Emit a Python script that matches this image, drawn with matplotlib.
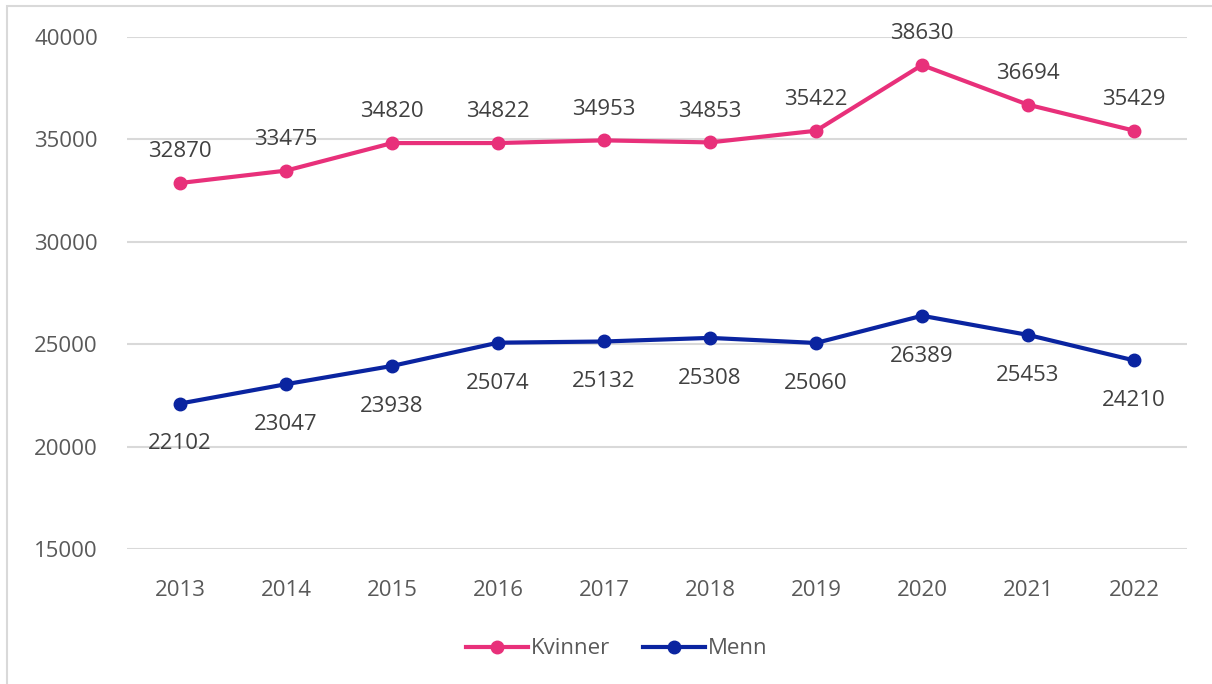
import matplotlib.pyplot as plt
from matplotlib.patches import Rectangle

years = ['2013', '2014', '2015', '2016', '2017', '2018', '2019', '2020', '2021', '2022']
kvinner = [32870, 33475, 34820, 34822, 34953, 34853, 35422, 38630, 36694, 35429]
menn = [22102, 23047, 23938, 25074, 25132, 25308, 25060, 26389, 25453, 24210]

pink = '#E8307A'
navy = '#0A24A0'
grey_text = '#595959'

plt.rcParams['font.family'] = ['Open Sans', 'DejaVu Sans']

fig = plt.figure(figsize=(12.12, 6.84), dpi=100)
# outer chart frame (partly cut off in the original)
fig.patches.append(Rectangle((7 / 1212, -0.1), 1.2, 1 - 6 / 684 + 0.1,
                             transform=fig.transFigure, fill=False,
                             edgecolor='#d9d9d9', linewidth=1.5))

ax = fig.add_axes([127 / 1212, 1 - 549 / 684, 1060 / 1212, 512 / 684])
x = range(len(years))
ax.plot(x, kvinner, color=pink, lw=3, marker='o', ms=9, label='Kvinner', zorder=3)
ax.plot(x, menn, color=navy, lw=3, marker='o', ms=9, label='Menn', zorder=3)

for i, v in enumerate(kvinner):
    ax.annotate(str(v), (i, v), xytext=(0, 18.5), textcoords='offset points',
                ha='center', va='baseline', fontsize=16, color='#404040')
for i, v in enumerate(menn):
    ax.annotate(str(v), (i, v), xytext=(0, -33), textcoords='offset points',
                ha='center', va='baseline', fontsize=16, color='#404040')

ax.set_xlim(-0.5, 9.5)
ax.set_ylim(15000, 40000)
ax.set_yticks(range(15000, 40001, 5000))
ax.set_xticks(list(x))
ax.set_xticklabels(years)
ax.yaxis.grid(True, color='#d9d9d9', lw=1.5)
ax.set_axisbelow(True)
for s in ax.spines.values():
    s.set_visible(False)
ax.tick_params(length=0, labelsize=16, colors=grey_text)
ax.tick_params(axis='y', pad=21)
ax.tick_params(axis='x', pad=22)

ax.legend(loc='center', bbox_to_anchor=(0.462, -0.195), ncol=2, frameon=False,
          fontsize=16, labelcolor=grey_text, handlelength=2.8, handletextpad=0.1,
          columnspacing=1.5)

fig.savefig('out.png', dpi=100)
